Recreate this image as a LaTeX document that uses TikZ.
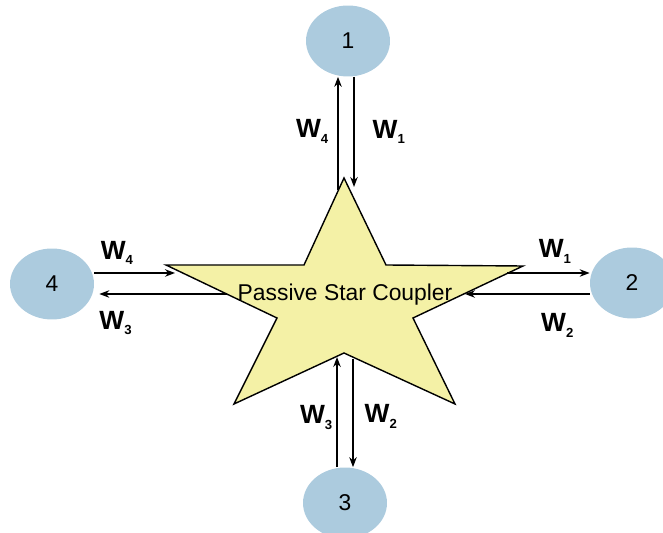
\documentclass[tikz,border=0pt]{standalone}
\usepackage{fontspec}
\setmainfont{Liberation Sans}
\usepackage{tikz}
\usetikzlibrary{arrows.meta, shapes.geometric}

\definecolor{portblue}{RGB}{172,203,222}
\definecolor{staryellow}{RGB}{244,241,166}

\newcommand{\wl}[1]{\fontsize{15}{15}\selectfont\bfseries W\raisebox{-0.4ex}{\fontsize{7.5}{7.5}\selectfont #1}}

\begin{document}
\begin{tikzpicture}[x=0.02cm, y=-0.02cm,
  port/.style={ellipse, fill=portblue, minimum width=1.68cm, minimum height=1.42cm, inner sep=0pt, font=\fontsize{13}{13}\selectfont},
  coupler/.style={draw, line width=0.8pt, fill=staryellow},
  arrow/.style={-{Stealth[length=2mm, width=1.5mm]}, line width=0.8pt},
  wave/.style={inner sep=0pt}
]
\useasboundingbox (0,0) rectangle (663,533);

\node[port] (n1) at (348,41) {1};
\node[port] (n2) at (632,283) {2};
\node[port] (n3) at (345,503) {3};
\node[port] (n4) at (52,284) {4};

\draw[coupler] (344,178) -- (386,265) -- (523,266) -- (413,318) -- (455,404) -- (344,353)
  -- (234,404) -- (277,318) -- (166,265) -- (304,265) -- cycle;
\node[font=\fontsize{13}{13}\selectfont] (coupler) at (345,295) {Passive Star Coupler};

\coordinate (t4) at (338,190);
\coordinate (t1) at (354,187);
\coordinate (l4) at (175,273);
\coordinate (l3) at (227,294);
\coordinate (r1) at (507,273);
\coordinate (r2) at (465,294);
\coordinate (b3) at (337,357);
\coordinate (b2) at (353,359);

\draw[arrow] (t4) -- node[wave, pos=0.52, left=0.18cm] {\wl{4}} (t4 |- n1.south);
\draw[arrow] (t1 |- n1.south) -- node[wave, pos=0.5, right=0.36cm] {\wl{1}} (t1);

\draw[arrow] (n4.east |- l4) -- node[wave, pos=0.28, above=0.15cm] {\wl{4}} (l4);
\draw[arrow, shorten >=0.1cm] (l3) -- node[wave, pos=0.84, below=0.33cm] {\wl{3}} (l3 -| n4.east);

\draw[arrow] (r1) -- node[wave, pos=0.58, above=0.18cm] {\wl{1}} (r1 -| n2.west);
\draw[arrow] (n2.west |- r2) -- node[wave, pos=0.26, below=0.38cm] {\wl{2}} (r2);

\draw[arrow] (b3 |- n3.north) -- node[wave, pos=0.45, left=0.08cm] {\wl{3}} (b3);
\draw[arrow] (b2) -- node[wave, pos=0.53, right=0.22cm] {\wl{2}} (b2 |- n3.north);

\end{tikzpicture}
\end{document}
